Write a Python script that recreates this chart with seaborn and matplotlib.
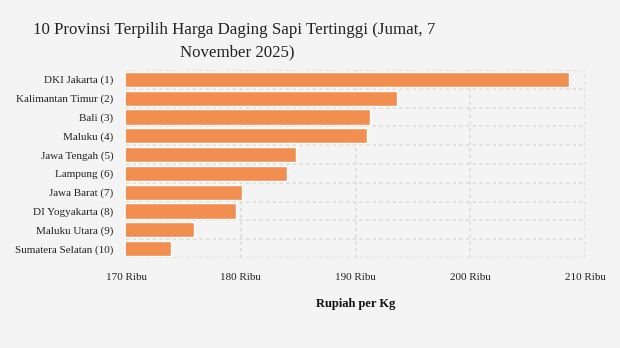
import matplotlib
matplotlib.use("Agg")
import matplotlib.pyplot as plt
import seaborn as sns
import pandas as pd
import numpy as np
from matplotlib.ticker import FixedLocator

provinsi = ["DKI Jakarta (1)", "Kalimantan Timur (2)", "Bali (3)", "Maluku (4)",
            "Jawa Tengah (5)", "Lampung (6)", "Jawa Barat (7)", "DI Yogyakarta (8)",
            "Maluku Utara (9)", "Sumatera Selatan (10)"]
harga = [208600, 193600, 191300, 191000, 184850, 184000, 180100, 179600, 175900, 173900]
x_ticks = [170000, 180000, 190000, 200000, 210000]
x_labels = ["170 Ribu", "180 Ribu", "190 Ribu", "200 Ribu", "210 Ribu"]

df = pd.DataFrame({"provinsi": provinsi, "harga": harga})

sns.set_theme(style="white")
plt.rcParams['font.family'] = ['Liberation Serif', 'DejaVu Serif']

bg = "#f4f4f4"
fig = plt.figure(figsize=(6.2, 3.48), dpi=100, facecolor=bg)
ax = fig.add_axes([126/620, 1-258/348, (585-126)/620, (258-70)/348])
ax.set_facecolor(bg)

sns.barplot(data=df, x="harga", y="provinsi", orient="h", color="#f28e50",
            saturation=1, width=0.8, ax=ax, zorder=3)

ax.set_xlim(170000, 210000)
ax.set_ylim(9.5, -0.5)
ax.xaxis.set_major_locator(FixedLocator(x_ticks))
ax.set_xticklabels(x_labels)
ax.yaxis.set_minor_locator(FixedLocator(np.arange(-0.5, 10, 1)))
ax.grid(axis="x", which="major", color="#dddddd", linestyle=(0, (2, 2)), linewidth=1.2, zorder=0)
ax.grid(axis="y", which="minor", color="#dddddd", linestyle=(0, (2, 2)), linewidth=1.2, zorder=0)
for s in ax.spines.values():
    s.set_visible(False)
ax.tick_params(axis="y", which="major", length=5, color="#dddddd", pad=4, labelsize=8, labelcolor="#222222")
ax.tick_params(axis="y", which="minor", length=0)
ax.tick_params(axis="x", length=0, pad=11, labelsize=8, labelcolor="#222222")
ax.set_ylabel("")
ax.set_xlabel("Rupiah per Kg", fontsize=9, fontweight="bold", labelpad=11, color="#111111")

fig.text(234/620, 1-30/348, "10 Provinsi Terpilih Harga Daging Sapi Tertinggi (Jumat, 7",
         ha="center", va="center", fontsize=12.2, color="#222222")
fig.text(237/620, 1-52/348, "November 2025)",
         ha="center", va="center", fontsize=12.2, color="#222222")

fig.savefig("out.png", dpi=100, facecolor=bg)
